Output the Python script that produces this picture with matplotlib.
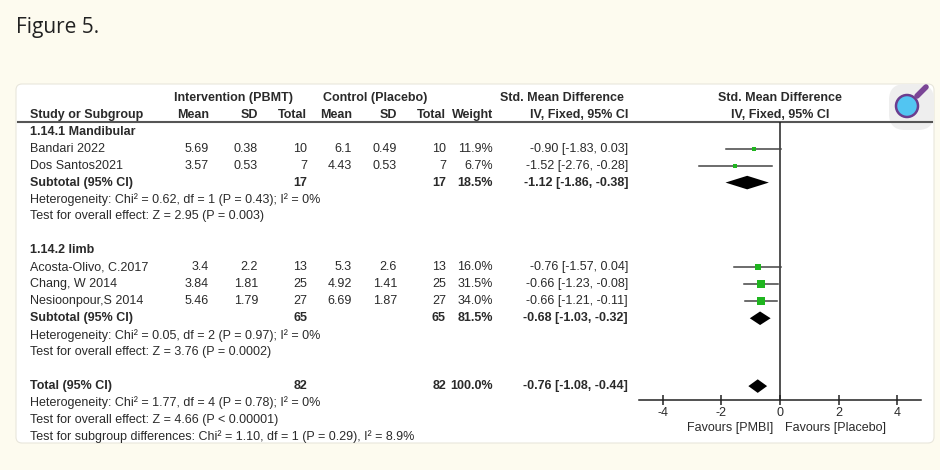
import matplotlib.pyplot as plt
from matplotlib.patches import FancyBboxPatch, Circle

plt.rcParams['font.family'] = ['Liberation Sans', 'DejaVu Sans']
plt.rcParams['axes.unicode_minus'] = False

# --- data ---
group_names = ["1.14.1 Mandibular", "1.14.2 limb"]
study_group = [0, 0, 1, 1, 1]
studies = ["Bandari 2022", "Dos Santos2021", "Acosta-Olivo, C.2017",
           "Chang, W 2014", "Nesioonpour,S 2014"]
int_mean = [5.69, 3.57, 3.4, 3.84, 5.46]
int_sd = [0.38, 0.53, 2.2, 1.81, 1.79]
int_n = [10, 7, 13, 25, 27]
ctl_mean = [6.1, 4.43, 5.3, 4.92, 6.69]
ctl_sd = [0.49, 0.53, 2.6, 1.41, 1.87]
ctl_n = [10, 7, 13, 25, 27]
weight = [11.9, 6.7, 16.0, 31.5, 34.0]
smd = [-0.90, -1.52, -0.76, -0.66, -0.66]
ci_low = [-1.83, -2.76, -1.57, -1.23, -1.21]
ci_high = [0.03, -0.28, 0.04, -0.08, -0.11]

sub_int_n = [17, 65]
sub_ctl_n = [17, 65]
sub_weight = [18.5, 81.5]
sub_smd = [-1.12, -0.68]
sub_low = [-1.86, -1.03]
sub_high = [-0.38, -0.32]
sub_het = ["Heterogeneity: Chi\u00b2 = 0.62, df = 1 (P = 0.43); I\u00b2 = 0%",
           "Heterogeneity: Chi\u00b2 = 0.05, df = 2 (P = 0.97); I\u00b2 = 0%"]
sub_effect = ["Test for overall effect: Z = 2.95 (P = 0.003)",
              "Test for overall effect: Z = 3.76 (P = 0.0002)"]

tot_int_n = 82
tot_ctl_n = 82
tot_weight = 100.0
tot_smd = -0.76
tot_low = -1.08
tot_high = -0.44
tot_notes = ["Heterogeneity: Chi\u00b2 = 1.77, df = 4 (P = 0.78); I\u00b2 = 0%",
             "Test for overall effect: Z = 4.66 (P < 0.00001)",
             "Test for subgroup differences: Chi\u00b2 = 1.10, df = 1 (P = 0.29), I\u00b2 = 8.9%"]

xticks = [-4, -2, 0, 2, 4]
left_label = "Favours [PMBI]"
right_label = "Favours [Placebo]"

# --- layout ---
W, H = 940, 470
row0_px, row_px = 131.7, 16.96
ylim = ((H - row0_px) / row_px, -row0_px / row_px)
col_name, col_m1, col_s1, col_n1 = 30, 209, 258, 307
col_m2, col_s2, col_n2, col_w, col_ci = 352, 397, 446, 493, 628
fs = 9
txt = '#2a2a2a'

fig = plt.figure(figsize=(W / 100, H / 100), dpi=100)
fig.patch.set_facecolor('#fdfbef')

# decoration axes in pixels
deco = fig.add_axes([0, 0, 1, 1], zorder=0)
deco.set_xlim(0, W)
deco.set_ylim(H, 0)
deco.axis('off')
deco.add_patch(FancyBboxPatch((16, 84), 918, 359, boxstyle="round,pad=0,rounding_size=6",
                              facecolor='white', edgecolor='#e8e6dc', lw=0.8))
deco.add_patch(FancyBboxPatch((889, 84), 45, 46, boxstyle="round,pad=0,rounding_size=16",
                              facecolor='#eeeeee', edgecolor='none'))
deco.plot([917, 926], [96, 87], color='#7a4596', lw=4, solid_capstyle='round')
deco.add_patch(Circle((907, 106), 11, facecolor='#52c5f2', edgecolor='#6b3d8f', lw=1.8))
deco.text(16, 28, "Figure 5.", fontsize=15, color='#222222', va='center',
          family=['Open Sans', 'DejaVu Sans'])

# table axes: x in pixels, y in rows
tab = fig.add_axes([0, 0, 1, 1], zorder=1)
tab.set_xlim(0, W)
tab.set_ylim(*ylim)
tab.axis('off')


def put(x, y, s, ha='right', bold=False):
    tab.text(x, y, s, ha=ha, va='center', fontsize=fs, color=txt,
             fontweight='bold' if bold else 'normal')


# headers
for x, s in [(234, "Intervention (PBMT)"), (375, "Control (Placebo)"),
             (562, "Std. Mean Difference"), (780, "Std. Mean Difference")]:
    put(x, -2, s, ha='center', bold=True)
put(col_name, -1, "Study or Subgroup", ha='left', bold=True)
for x, s in [(col_m1, "Mean"), (col_s1, "SD"), (col_n1, "Total"), (col_m2, "Mean"),
             (col_s2, "SD"), (col_n2, "Total"), (col_w, "Weight"), (col_ci, "IV, Fixed, 95% CI")]:
    put(x, -1, s, bold=True)
put(780, -1, "IV, Fixed, 95% CI", ha='center', bold=True)
tab.plot([18, 932], [-0.6, -0.6], color='#555555', lw=1.5)


def ci_text(e, lo, hi):
    return f"{e:.2f} [{lo:.2f}, {hi:.2f}]"


study_rows = []
sub_rows = []
row = 0
for g, gname in enumerate(group_names):
    put(col_name, row, gname, ha='left', bold=True)
    row += 1
    for i in range(len(studies)):
        if study_group[i] != g:
            continue
        put(col_name, row, studies[i], ha='left')
        put(col_m1, row, str(int_mean[i]))
        put(col_s1, row, str(int_sd[i]))
        put(col_n1, row, str(int_n[i]))
        put(col_m2, row, str(ctl_mean[i]))
        put(col_s2, row, str(ctl_sd[i]))
        put(col_n2, row, str(ctl_n[i]))
        put(col_w, row, f"{weight[i]:.1f}%")
        put(col_ci, row, ci_text(smd[i], ci_low[i], ci_high[i]))
        study_rows.append(row)
        row += 1
    put(col_name, row, "Subtotal (95% CI)", ha='left', bold=True)
    put(col_n1, row, str(sub_int_n[g]), bold=True)
    put(col_n2, row, str(sub_ctl_n[g]), bold=True)
    put(col_w, row, f"{sub_weight[g]:.1f}%", bold=True)
    put(col_ci, row, ci_text(sub_smd[g], sub_low[g], sub_high[g]), bold=True)
    sub_rows.append(row)
    row += 1
    put(col_name, row, sub_het[g], ha='left')
    row += 1
    put(col_name, row, sub_effect[g], ha='left')
    row += 2

total_row = row
put(col_name, row, "Total (95% CI)", ha='left', bold=True)
put(col_n1, row, str(tot_int_n), bold=True)
put(col_n2, row, str(tot_ctl_n), bold=True)
put(col_w, row, f"{tot_weight:.1f}%", bold=True)
put(col_ci, row, ci_text(tot_smd, tot_low, tot_high), bold=True)
for note in tot_notes:
    row += 1
    put(col_name, row, note, ha='left')

# forest axes
axis_px_left, axis_px_right = 639, 921
px_per_unit = 29.3
half = (axis_px_right - axis_px_left) / 2 / px_per_unit
fx = fig.add_axes([axis_px_left / W, 0, (axis_px_right - axis_px_left) / W, 1], zorder=2)
fx.set_facecolor('none')
fx.set_xlim(-half, half)
fx.set_ylim(*ylim)
axis_row = (400 - row0_px) / row_px
for s in ['left', 'right', 'top']:
    fx.spines[s].set_visible(False)
fx.spines['bottom'].set_position(('data', axis_row))
fx.spines['bottom'].set_color('#222222')
fx.spines['bottom'].set_linewidth(1.1)
fx.set_yticks([])
fx.set_xticks(xticks)
fx.tick_params(axis='x', direction='inout', length=7, width=1.1, color='#222222',
               labelsize=fs, labelcolor=txt, pad=1.5)
fx.vlines(0, -0.6, axis_row, color='#222222', lw=1.1)

for i, r in enumerate(study_rows):
    fx.plot([ci_low[i], ci_high[i]], [r, r], color='#444444', lw=1.1, zorder=3)
    fx.plot(smd[i], r, marker='s', color='#1fb51f', markersize=0.95 * weight[i] ** 0.5,
            markeredgewidth=0, zorder=4)

dh = 0.4


def diamond(e, lo, hi, r):
    fx.fill([lo, e, hi, e], [r, r - dh, r, r + dh], color='black', lw=0, zorder=4)


for g, r in enumerate(sub_rows):
    diamond(sub_smd[g], sub_low[g], sub_high[g], r)
diamond(tot_smd, tot_low, tot_high, total_row)

lab_row = (428 - row0_px) / row_px
fx.text(-0.24, lab_row, left_label, ha='right', va='center', fontsize=fs, color=txt)
fx.text(0.17, lab_row, right_label, ha='left', va='center', fontsize=fs, color=txt)

fig.savefig("out.png", dpi=100, facecolor=fig.get_facecolor())
